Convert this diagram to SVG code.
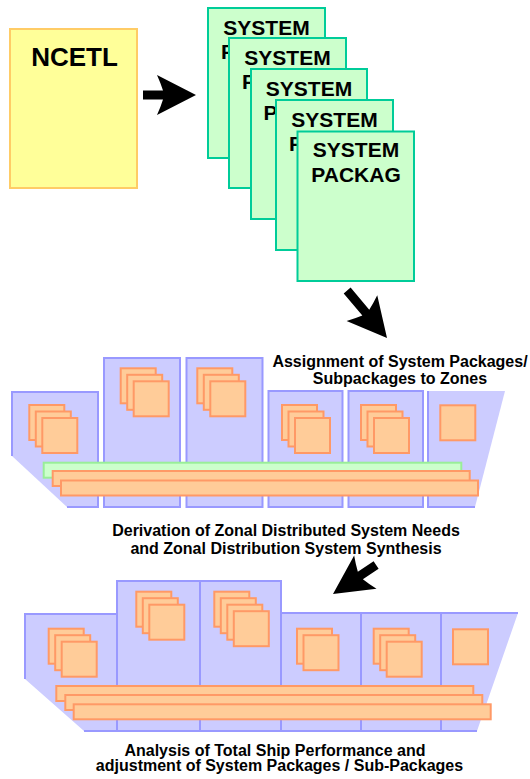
<svg xmlns="http://www.w3.org/2000/svg" xmlns:xlink="http://www.w3.org/1999/xlink" width="530" height="779" viewBox="0 0 530 779">
<style>
.t{font-family:"Liberation Sans",Arial,sans-serif;font-weight:bold;fill:#000;text-anchor:middle}
.ts{font-family:"Liberation Sans",Arial,sans-serif;font-weight:bold;fill:#000;text-anchor:start}
.card{fill:#CCFFCC;stroke:#00CC99;stroke-width:2}
.zone{fill:#CCCCFF;stroke:none}
.zs{fill:none;stroke:#9999FF;stroke-width:2}
.zr{fill:#CCCCFF;stroke:#9999FF;stroke-width:2}
.pkg{fill:#FFCC99;stroke:#FF9966;stroke-width:2}
.gbar{fill:#CCFFCC;stroke:#99EE99;stroke-width:2}
.arr{fill:#000}
</style>
<defs>
<rect id="sq" width="35" height="35" class="pkg"/>
<rect id="bar" width="417" height="15" class="pkg"/>
</defs>

<g id="ncetl">
<rect x="10" y="29" width="127" height="159" fill="#FFFF99" stroke="#FFCC66" stroke-width="2"/>
<text class="t" x="74.5" y="65.5" font-size="26">NCETL</text>
</g>

<g id="package1">
<rect class="card" x="208" y="8" width="117" height="150"/>
<text class="t" x="266.5" y="34.5" font-size="21">SYSTEM</text>
<text class="ts" x="221" y="59" font-size="21">P</text>
</g>
<g id="package2">
<rect class="card" x="229" y="38" width="117" height="150"/>
<text class="t" x="287.5" y="64.5" font-size="21">SYSTEM</text>
<text class="ts" x="242" y="89" font-size="21">P</text>
</g>
<g id="package3">
<rect class="card" x="251" y="69" width="116" height="150"/>
<text class="t" x="309" y="95.5" font-size="21">SYSTEM</text>
<text class="ts" x="263.5" y="120" font-size="21">P</text>
</g>
<g id="package4">
<rect class="card" x="276" y="100" width="117" height="150"/>
<text class="t" x="334.5" y="126.5" font-size="21">SYSTEM</text>
<text class="ts" x="289" y="151" font-size="21">P</text>
</g>
<g id="package5">
<rect class="card" x="297.5" y="131.5" width="116.5" height="149.5"/>
<text class="t" x="356" y="157" font-size="21">SYSTEM</text>
<text class="t" x="356" y="181.5" font-size="21">PACKAG</text>
</g>

<g id="ship-assignment">
<polygon class="zone" points="12,392 98,392 98,507 67,507 12,456"/>
<polyline class="zs" points="67,507 98,507 98,392 12,392 12,456"/>
<rect class="zr" x="104" y="358" width="76" height="149"/>
<rect class="zr" x="186.5" y="358" width="76" height="149"/>
<rect class="zr" x="268.5" y="391" width="74" height="116"/>
<rect class="zr" x="348.5" y="391" width="74.5" height="116"/>
<polygon class="zone" points="428,391 505,391 475,507 428,507"/>
<polyline class="zs" points="475,507 428,507 428,391"/>
<use href="#sq" x="29.3" y="405"/><use href="#sq" x="35.8" y="411.5"/><use href="#sq" x="42.3" y="418"/>
<use href="#sq" x="120.7" y="368.3"/><use href="#sq" x="127.2" y="374.8"/><use href="#sq" x="133.7" y="381.3"/>
<use href="#sq" x="197.3" y="368.3"/><use href="#sq" x="203.8" y="374.8"/><use href="#sq" x="210.3" y="381.3"/>
<use href="#sq" x="282" y="405"/><use href="#sq" x="288.5" y="411.5"/><use href="#sq" x="295" y="418"/>
<use href="#sq" x="361" y="405"/><use href="#sq" x="367.5" y="411.5"/><use href="#sq" x="374" y="418"/>
<use href="#sq" x="440.3" y="405.3"/>
<rect class="gbar" x="43.7" y="462.7" width="417.6" height="15"/>
<use href="#bar" x="52.7" y="471"/>
<use href="#bar" x="61" y="480.5"/>
<text class="t" font-size="16"><tspan x="400" y="366.5">Assignment of System Packages/</tspan><tspan x="400" y="384">Subpackages to Zones</tspan></text>
</g>

<g id="label-derivation">
<text class="t" font-size="16"><tspan x="286" y="536">Derivation of Zonal Distributed System Needs</tspan><tspan x="286" y="554">and Zonal Distribution System Synthesis</tspan></text>
</g>

<g id="ship-analysis">
<polygon class="zone" points="25,614 117,614 117,581 281,581 281,613 518,613 477,731 84,731 25,679"/>
<polyline class="zs" points="25,679 25,614 117,614 117,581 281,581 281,613 518,613"/>
<line class="zs" x1="84" y1="731" x2="477" y2="731"/>
<line class="zs" x1="117" y1="614" x2="117" y2="731"/>
<line class="zs" x1="200" y1="581" x2="200" y2="731"/>
<line class="zs" x1="281" y1="613" x2="281" y2="731"/>
<line class="zs" x1="361" y1="613" x2="361" y2="731"/>
<line class="zs" x1="441" y1="613" x2="441" y2="731"/>
<use href="#sq" x="48.7" y="628.7"/><use href="#sq" x="55.2" y="635.2"/><use href="#sq" x="61.7" y="641.7"/>
<use href="#sq" x="136.3" y="591.7"/><use href="#sq" x="142.8" y="598.2"/><use href="#sq" x="149.3" y="604.7"/>
<use href="#sq" x="214.3" y="591.7"/><use href="#sq" x="220.8" y="598.2"/><use href="#sq" x="227.3" y="604.7"/><use href="#sq" x="233.8" y="611.2"/>
<use href="#sq" x="297" y="628.7"/><use href="#sq" x="303.5" y="635.2"/>
<use href="#sq" x="373.7" y="628.7"/><use href="#sq" x="380.2" y="635.2"/><use href="#sq" x="386.7" y="641.7"/>
<use href="#sq" x="453" y="629.3"/>
<use href="#bar" x="56.3" y="686"/>
<use href="#bar" x="65.3" y="695"/>
<use href="#bar" x="73.7" y="704.3"/>
<text class="t" font-size="16"><tspan x="275" y="755.5">Analysis of Total Ship Performance and</tspan><tspan x="279.5" y="771">adjustment of System Packages / Sub-Packages</tspan></text>
</g>

<g id="connectors">
<path class="arr" transform="translate(196,95)" d="M0,0 L-39,-20 Q-35,-11 -33,-4.5 L-53,-4.5 L-53,4.5 L-33,4.5 Q-35,11 -39,20 Z"/>
<path class="arr" transform="translate(387,338) rotate(50)" d="M0,0 L-39,-20 Q-35,-11 -33,-4.5 L-62,-4.5 L-62,4.5 L-33,4.5 Q-35,11 -39,20 Z"/>
<path class="arr" transform="translate(333,594) rotate(146)" d="M0,0 L-39,-20 Q-35,-11 -33,-4.5 L-52,-4.5 L-52,4.5 L-33,4.5 Q-35,11 -39,20 Z"/>
</g>
</svg>
